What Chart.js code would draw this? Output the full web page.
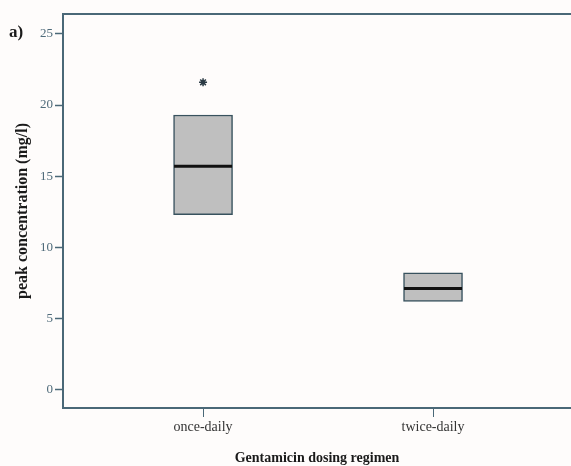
<!DOCTYPE html>
<html>
<head>
<meta charset="utf-8">
<script src="https://cdn.jsdelivr.net/npm/chart.js@4/dist/chart.umd.min.js"></script>
<style>
  html, body { margin: 0; padding: 0; background: #fefcfb; }
  #wrap { width: 571px; height: 466px; }
</style>
</head>
<body>
<div id="wrap"><canvas id="chart" width="571" height="466"></canvas></div>
<script>
// Data
const categories = ['once-daily', 'twice-daily'];
const boxLow = [12.3, 6.2];
const boxHigh = [19.3, 8.2];
const medians = [15.7, 7.1];
const outliers = [{ cat: 0, value: 21.6 }];
const yTicks = [0, 5, 10, 15, 20, 25];

const axisColor = '#4a6877';
const serif = '"Liberation Serif", "DejaVu Serif", serif';

// categories sit at x = 1, 2 on a linear scale
const catPos = categories.map((_, i) => i + 1);

// Frame: top line (left/bottom borders come from the axes) + panel label
const framePlugin = {
  id: 'frame',
  afterDraw(chart) {
    const { ctx, chartArea } = chart;
    ctx.save();
    ctx.strokeStyle = axisColor;
    ctx.lineWidth = 2;
    ctx.beginPath();
    ctx.moveTo(chartArea.left, chartArea.top);
    ctx.lineTo(chartArea.right, chartArea.top);
    ctx.stroke();
    ctx.fillStyle = '#1a1a1a';
    ctx.font = 'bold 17px ' + serif;
    ctx.textBaseline = 'middle';
    ctx.fillText('a)', 9, 33);
    ctx.restore();
  }
};

new Chart(document.getElementById('chart'), {
  type: 'bar',
  data: {
    datasets: [
      {
        type: 'bar',
        label: 'box',
        data: catPos.map((x, i) => ({ x: x, y: [boxLow[i], boxHigh[i]] })),
        backgroundColor: '#bfbfbf',
        borderColor: '#38525e',
        borderWidth: 1.5,
        borderSkipped: false,
        barThickness: 59,
        order: 2
      },
      {
        type: 'scatter',
        label: 'median',
        data: catPos.map((x, i) => ({ x: x, y: medians[i] })),
        pointStyle: 'line',
        pointRadius: 29,
        pointHoverRadius: 29,
        borderColor: '#111111',
        borderWidth: 3,
        order: 1
      },
      {
        type: 'scatter',
        label: 'outlier',
        data: outliers.map(o => ({ x: catPos[o.cat], y: o.value })),
        pointStyle: 'star',
        pointRadius: 4,
        borderColor: '#2a3a44',
        borderWidth: 1.5,
        order: 0
      }
    ]
  },
  options: {
    responsive: false,
    animation: false,
    layout: { autoPadding: false, padding: { top: 14, left: 0, right: 0, bottom: 0 } },
    plugins: {
      legend: { display: false },
      tooltip: { enabled: false }
    },
    scales: {
      x: {
        type: 'linear',
        offset: false,
        min: 0.391,
        max: 2.6,
        afterBuildTicks(scale) {
          scale.ticks = catPos.map(v => ({ value: v }));
        },
        afterFit(scale) { scale.height = 58; },
        grid: {
          offset: false,
          drawOnChartArea: false,
          drawTicks: true,
          tickLength: 9,
          tickColor: axisColor,
          tickWidth: 1
        },
        border: { display: true, color: axisColor, width: 2 },
        ticks: {
          color: '#333333',
          padding: 2,
          maxRotation: 0,
          font: { family: serif, size: 14 },
          callback: (v) => categories[v - 1]
        },
        title: {
          display: true,
          text: 'Gentamicin dosing regimen',
          color: '#1a1a1a',
          padding: { top: 10, bottom: -1 },
          font: { family: serif, size: 14, weight: 'bold' }
        }
      },
      y: {
        min: -1.3,
        max: 26.4,
        afterBuildTicks(scale) {
          scale.ticks = yTicks.map(v => ({ value: v }));
        },
        afterFit(scale) { scale.width = 63; },
        grid: {
          drawOnChartArea: false,
          drawTicks: true,
          tickLength: 8,
          tickColor: axisColor,
          tickWidth: 1.5
        },
        border: { display: true, color: axisColor, width: 2 },
        ticks: {
          color: '#4f6b7a',
          padding: 2,
          font: { family: serif, size: 13 }
        },
        title: {
          display: true,
          text: 'peak concentration (mg/l)',
          color: '#1a1a1a',
          padding: { top: 13, bottom: 0 },
          font: { family: serif, size: 16, weight: 'bold' }
        }
      }
    }
  },
  plugins: [framePlugin]
});
</script>
</body>
</html>
